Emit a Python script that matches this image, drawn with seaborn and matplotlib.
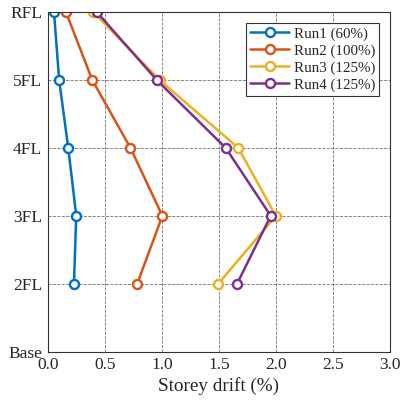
import pandas as pd
import seaborn as sns
import matplotlib.pyplot as plt

levels = ['Base', '2FL', '3FL', '4FL', '5FL', 'RFL']
floors = ['2FL', '3FL', '4FL', '5FL', 'RFL']

run1 = [0.23, 0.25, 0.18, 0.10, 0.055]
run2 = [0.785, 1.005, 0.725, 0.39, 0.16]
run3 = [1.495, 2.00, 1.67, 0.98, 0.40]
run4 = [1.66, 1.955, 1.56, 0.955, 0.43]

run_names = ['Run1 (60%)', 'Run2 (100%)', 'Run3 (125%)', 'Run4 (125%)']
colors = ['#0072BD', '#D95319', '#EDB120', '#7E2F8E']

rows = []
for name, vals in zip(run_names, [run1, run2, run3, run4]):
    for fl, v in zip(floors, vals):
        rows.append({'run': name, 'level': levels.index(fl), 'drift': v})
df = pd.DataFrame(rows)

sns.set_style('ticks')
plt.rcParams['font.family'] = ['Liberation Serif', 'DejaVu Serif']

fig = plt.figure(figsize=(4.02, 4.07), dpi=100)
ax = fig.add_axes([0.1187, 0.1359, 0.8513, 0.8346])

for name, c in zip(run_names, colors):
    sub = df[df['run'] == name]
    sns.lineplot(data=sub, x='drift', y='level', orient='y', sort=False,
                 estimator=None, ax=ax, color=c, label=name, lw=1.8,
                 marker='o', ms=6.5, mfc='white', mec=c, mew=1.7)

ax.set_xlim(0, 3.0)
ax.set_ylim(0, 5)
ax.set_xticks([0, 0.5, 1.0, 1.5, 2.0, 2.5, 3.0])
ax.set_xticklabels(['0.0', '0.5', '1.0', '1.5', '2.0', '2.5', '3.0'])
ax.set_yticks(range(len(levels)))
ax.set_yticklabels(levels)
ax.tick_params(labelsize=12.5, length=0, pad=4)
ax.grid(True, ls='--', color='#444444', lw=0.6, alpha=0.75)
for s in ax.spines.values():
    s.set_visible(True)
    s.set_color('#333333')
    s.set_linewidth(0.8)
ax.set_xlabel('Storey drift (%)', fontsize=13.8, labelpad=3)
ax.set_ylabel('')

leg = ax.legend(loc='upper right', fontsize=10.8, frameon=True, fancybox=False,
                edgecolor='#333333', framealpha=1, handlelength=2.6,
                borderpad=0.3, labelspacing=0.22, handletextpad=0.3,
                borderaxespad=0.7)
leg.get_frame().set_linewidth(0.8)

fig.savefig('out.png', dpi=100)
